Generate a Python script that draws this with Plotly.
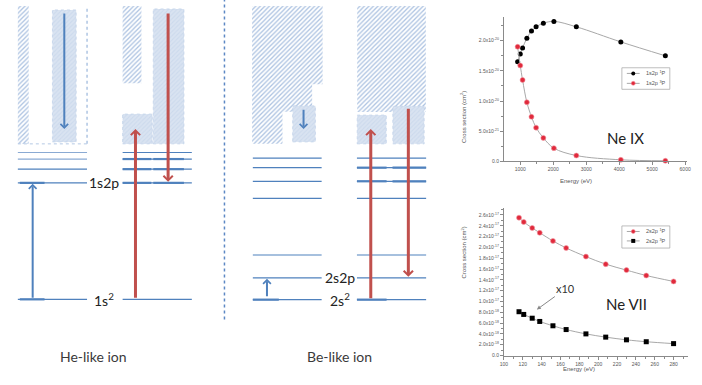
import plotly.graph_objects as go

W, H = 702, 385

# ---------------- data: Ne IX (He-like) ----------------
neix_energy = [920, 1000, 1070, 1200, 1340, 1480, 1700, 2020, 2700, 4050, 5400]
neix_1P = [1.65e-20, 1.78e-20, 1.88e-20, 2.04e-20, 2.16e-20, 2.23e-20, 2.29e-20, 2.32e-20, 2.23e-20, 1.98e-20, 1.75e-20]
neix_3P = [1.90e-20, 1.59e-20, 1.35e-20, 9.8e-21, 7.4e-21, 5.6e-21, 3.9e-21, 2.2e-21, 9.8e-22, 2.7e-22, 1.1e-22]
neix_names = ["1s2p <sup>1</sup>P", "1s2p <sup>3</sup>P"]
neix_xticks = [1000, 2000, 3000, 4000, 5000, 6000]
neix_yticks = [0, 5e-21, 1e-20, 1.5e-20, 2e-20]
neix_ytext = ["0.0", "5.0x10<sup>-21</sup>", "1.0x10<sup>-20</sup>", "1.5x10<sup>-20</sup>", "2.0x10<sup>-20</sup>"]

# ---------------- data: Ne VII (Be-like) ----------------
nevii_energy = [116, 121, 130, 138, 152, 166, 187, 208, 230, 251, 280]
nevii_1P = [2.55e-17, 2.47e-17, 2.36e-17, 2.27e-17, 2.12e-17, 1.99e-17, 1.83e-17, 1.69e-17, 1.58e-17, 1.48e-17, 1.37e-17]
nevii_3P_x10 = [8.1e-18, 7.6e-18, 6.9e-18, 6.3e-18, 5.5e-18, 4.8e-18, 4.0e-18, 3.4e-18, 2.9e-18, 2.55e-18, 2.2e-18]
nevii_names = ["2s2p <sup>1</sup>P", "2s2p <sup>3</sup>P"]
nevii_xticks = [100, 120, 140, 160, 180, 200, 220, 240, 260, 280]
nevii_yticks = [0, 2e-18, 4e-18, 6e-18, 8e-18, 1.0e-17, 1.2e-17, 1.4e-17, 1.6e-17, 1.8e-17, 2.0e-17, 2.2e-17, 2.4e-17, 2.6e-17]
nevii_ytext = ["0.0", "2.0x10<sup>-18</sup>", "4.0x10<sup>-18</sup>", "6.0x10<sup>-18</sup>", "8.0x10<sup>-18</sup>",
               "1.0x10<sup>-17</sup>", "1.2x10<sup>-17</sup>", "1.4x10<sup>-17</sup>", "1.6x10<sup>-17</sup>",
               "1.8x10<sup>-17</sup>", "2.0x10<sup>-17</sup>", "2.2x10<sup>-17</sup>", "2.4x10<sup>-17</sup>",
               "2.6x10<sup>-17</sup>"]

# ---------------- data: level diagrams (schematic energy units) ----------------
he_levels = [83.3, 200.7, 214.5, 224.7, 231.3]
be_levels = [83.0, 105.0, 128.0, 185.0, 202.3, 216.0, 225.7]
he_level_names = ["1s<sup>2</sup>", "1s2p"]
be_level_names = ["2s<sup>2</sup>", "2s2p"]
ion_names = ["He-like ion", "Be-like ion"]
continuum_top = 379
he_continuum = 240
be_continuum = 240

BLUE = "#4F81BD"
LBLUE = "#8aaad3"
RED = "#C0504D"
GRAY = "#a8a8a8"
MRED = "#e02a3c"

fig = go.Figure()

# ---------------- cross-section plots ----------------
red_marker = dict(color=MRED, size=5, line=dict(color="#f49aa5", width=0.6))
blk_marker = dict(color="black", size=5)
blk_sq = dict(color="black", size=5, symbol="square")

fig.add_trace(go.Scatter(x=neix_energy, y=neix_1P, mode="lines+markers", name=neix_names[0],
                         line=dict(color=GRAY, width=1, shape="spline"), marker=blk_marker,
                         cliponaxis=False, xaxis="x", yaxis="y", showlegend=False))
fig.add_trace(go.Scatter(x=neix_energy, y=neix_3P, mode="lines+markers", name=neix_names[1],
                         line=dict(color=GRAY, width=1, shape="spline"), marker=red_marker,
                         cliponaxis=False, xaxis="x", yaxis="y", showlegend=False))
fig.add_trace(go.Scatter(x=nevii_energy, y=nevii_1P, mode="lines+markers", name=nevii_names[0],
                         line=dict(color=GRAY, width=1, shape="spline"), marker=red_marker,
                         cliponaxis=False, xaxis="x2", yaxis="y2", showlegend=False))
fig.add_trace(go.Scatter(x=nevii_energy, y=nevii_3P_x10, mode="lines+markers", name=nevii_names[1],
                         line=dict(color=GRAY, width=1, shape="spline"), marker=blk_sq,
                         cliponaxis=False, xaxis="x2", yaxis="y2", showlegend=False))

# ---------------- level diagrams ----------------
def poly(xs, ys, fill, pattern=None, line=None):
    fig.add_trace(go.Scatter(x=xs + [xs[0]], y=ys + [ys[0]], fill="toself", mode="lines",
                             fillcolor=fill, fillpattern=pattern,
                             line=line or dict(width=0),
                             xaxis="x3", yaxis="y3", showlegend=False, hoverinfo="skip"))

HATCH = dict(shape="/", fgcolor="#5a86c3", bgcolor="white", size=3.2, solidity=0.4)

def rect(x0, x1, y0, y1, kind):
    if kind == "hatch":
        poly([x0, x1, x1, x0], [y0, y0, y1, y1], "white", HATCH)
    else:
        poly([x0, x1, x1, x0], [y0, y0, y1, y1], "#d6e1f0",
             dict(shape="/", fgcolor="#bfd0e8", bgcolor="#d9e3f1", size=3, solidity=0.35),
             dict(color="#c3d3ea", width=0.8, dash="dot"))

def hline(x0, x1, y, color=BLUE, width=1.3):
    fig.add_shape(type="line", xref="x3", yref="y3", x0=x0, x1=x1, y0=y, y1=y,
                  line=dict(color=color, width=width))

def vline(x, y0, y1, color, width, dash="dot"):
    fig.add_shape(type="line", xref="x3", yref="y3", x0=x, x1=x, y0=y0, y1=y1,
                  line=dict(color=color, width=width, dash=dash))

def arrow(x, y_from, y_to, color, width, size):
    fig.add_annotation(x=x, y=y_to, ax=x, ay=y_from, xref="x3", yref="y3", axref="x3", ayref="y3",
                       text="", showarrow=True, arrowhead=4, arrowsize=size, arrowwidth=width,
                       arrowcolor=color, standoff=0)

# He-like, left group (blue)
rect(14, 25, he_continuum, continuum_top, "hatch")
rect(49, 73, he_continuum + 2, continuum_top - 4, "light")
vline(84, he_continuum, continuum_top, "#9ab6dc", 1.2)
fig.add_shape(type="line", xref="x3", yref="y3", x0=14, x1=84, y0=he_continuum, y1=he_continuum,
              line=dict(color="#b5c9e4", width=1, dash="dot"))
for i, lv in enumerate(he_levels):
    hline(14, 84, lv, LBLUE if i >= 3 else BLUE, 1.2)
hline(16, 41, he_levels[0], BLUE, 2.2)
hline(16, 41, he_levels[1], BLUE, 2.2)
arrow(29, he_levels[0], he_levels[1] - 1, BLUE, 2, 0.75)
arrow(61, continuum_top - 6, he_continuum + 15, BLUE, 2, 0.75)

# He-like, right group (red)
rect(120, 139, 301, continuum_top, "hatch")
rect(120, 150, he_continuum, 270, "light")
rect(151, 182, he_continuum, continuum_top - 3, "light")
for lv in he_levels:
    hline(120, 190, lv, BLUE, 1.2)
for lv in he_levels[1:4]:
    hline(120, 149, lv, BLUE, 2.2)
    hline(151, 182, lv, BLUE, 2.2)
arrow(133, he_levels[0], he_continuum + 15, RED, 3, 0.6)
arrow(166, continuum_top - 6, he_levels[1] + 1, RED, 3, 0.6)

# Be-like, left group (blue)
poly([251, 322.3, 322.3, 311.7, 311.7, 281.7, 281.7, 251],
     [continuum_top, continuum_top, 300, 300, 272.3, 272.3, be_continuum, be_continuum], "white", HATCH)
rect(292, 315, be_continuum + 2, 278.3, "light")
for lv in be_levels:
    hline(251.7, 321.3, lv, BLUE, 1.2)
hline(251.7, 278, be_levels[0], BLUE, 2.2)
arrow(266, be_levels[0] + 2, be_levels[1] - 1, BLUE, 2, 0.75)
arrow(303, 276, be_continuum + 15, BLUE, 2, 0.75)

# Be-like, right group (red)
rect(357.3, 426.7, 272, continuum_top, "hatch")
rect(357.3, 386.7, be_continuum, 269, "light")
rect(393.3, 425, be_continuum, 278, "light")
for lv in be_levels:
    hline(357, 427, lv, BLUE, 1.2)
for lv in be_levels[4:6]:
    hline(357, 387, lv, BLUE, 2.2)
    hline(393, 427, lv, BLUE, 2.2)
hline(357, 387, be_levels[0], BLUE, 2.2)
arrow(371, be_levels[0], be_continuum + 15, RED, 3, 0.6)
arrow(409, 277, be_levels[1] + 1, RED, 3, 0.6)

# divider
vline(223, 63, 385, "#5d88c4", 1.5)

# level labels
LFONT = dict(family="Lato, Open Sans, sans-serif", size=14, color="#222222")
for xx, yy, tt in [(101, he_levels[1], he_level_names[1]), (101, he_levels[0], he_level_names[0]),
                   (340, be_levels[1], be_level_names[1]), (340, be_levels[0], be_level_names[0])]:
    fig.add_annotation(x=xx, y=yy, text=tt, xref="x3", yref="y3", showarrow=False,
                       font=LFONT, bgcolor="white")
for xx, tt in [(91, ion_names[0]), (339, ion_names[1])]:
    fig.add_annotation(x=xx, y=26, text=tt, xref="x3", yref="y3", showarrow=False,
                       font=dict(family="Lato, Open Sans, sans-serif", size=14, color="#3a3a3a"))

# ---------------- hand-made compact legends (pixel frame of x3/y3) ----------------
LEGF = dict(family="Liberation Sans, Arial, sans-serif", size=5.5, color="#555555")

def legend_box(x0, x1, top, bottom, rows):
    fig.add_shape(type="rect", xref="x3", yref="y3", x0=x0, x1=x1, y0=H - bottom, y1=H - top,
                  line=dict(color="#a0a0a0", width=0.7), fillcolor="white", layer="below")
    for (yrow, name, mk) in rows:
        yy = H - yrow
        fig.add_trace(go.Scatter(x=[x0 + 5, x0 + 18], y=[yy, yy], mode="lines",
                                 line=dict(color=GRAY, width=1), xaxis="x3", yaxis="y3",
                                 showlegend=False, hoverinfo="skip"))
        fig.add_trace(go.Scatter(x=[x0 + 11.5], y=[yy], mode="markers", marker=dict(mk, size=4),
                                 xaxis="x3", yaxis="y3", showlegend=False, hoverinfo="skip"))
        fig.add_annotation(x=x0 + 22, y=yy, text=name, xref="x3", yref="y3", showarrow=False,
                           xanchor="left", font=LEGF)

legend_box(625, 673.5, 68.3, 90, [(74, neix_names[0], blk_marker), (84, neix_names[1], red_marker)])
legend_box(625, 673.5, 227.7, 250, [(233.3, nevii_names[0], red_marker), (242.8, nevii_names[1], blk_sq)])

# ---------------- plot annotations ----------------
def px(xp, yp):
    return xp / W, 1 - yp / H

AF = dict(family="Liberation Sans, Arial, sans-serif", size=6, color="#555555")
for (xp, yp) in [(465, 90), (465, 283)]:
    x, y = px(xp, yp)
    fig.add_annotation(x=x, y=y, xref="paper", yref="paper", text="Cross section (cm<sup>2</sup>)",
                       textangle=-90, showarrow=False, font=AF)
for (xp, yp) in [(597, 182), (600, 377)]:
    x, y = px(xp, yp)
    fig.add_annotation(x=x, y=y, xref="paper", yref="paper", text="Energy (eV)",
                       showarrow=False, font=AF)
x, y = px(649, 128)
fig.add_annotation(x=x, y=y, xref="paper", yref="paper", text="Ne IX", showarrow=False,
                   font=dict(family="Lato, Open Sans, sans-serif", size=15, color="#222222"))
x, y = px(652, 317)
fig.add_annotation(x=x, y=y, xref="paper", yref="paper", text="Ne VII", showarrow=False,
                   font=dict(family="Lato, Open Sans, sans-serif", size=15, color="#222222"))
x, y = px(539, 312)
fig.add_annotation(x=x, y=y, xref="paper", yref="paper", text="x10", showarrow=True,
                   ax=29, ay=-21, arrowhead=2, arrowsize=0.8, arrowwidth=1, arrowcolor="#888888",
                   font=dict(family="Lato, Open Sans, sans-serif", size=11, color="#333333"))

TF = dict(family="Liberation Sans, Arial, sans-serif", size=5, color="#555555")
axis_common = dict(showline=True, linecolor="#8a8a8a", linewidth=1, ticks="outside", ticklen=3,
                   tickcolor="#8a8a8a", showgrid=False, zeroline=False, tickfont=TF)

fig.update_layout(
    width=W, height=H, margin=dict(l=0, r=0, t=0, b=0),
    paper_bgcolor="white", plot_bgcolor="rgba(0,0,0,0)", showlegend=False,
    xaxis=dict(domain=[505.7 / W, 691 / W], range=[505, 6060], anchor="y", tickvals=neix_xticks,
               minor=dict(ticks="outside", ticklen=2, dtick=500, tick0=0, tickcolor="#8a8a8a"),
               **axis_common),
    yaxis=dict(domain=[1 - 162.7 / H, 1 - 16.7 / H], range=[0, 2.4e-20], anchor="x",
               tickvals=neix_yticks, ticktext=neix_ytext,
               minor=dict(ticks="outside", ticklen=2, dtick=2.5e-21, tick0=0, tickcolor="#8a8a8a"),
               **axis_common),
    xaxis2=dict(domain=[505.7 / W, 691.6 / W], range=[100, 295], anchor="y2", tickvals=nevii_xticks,
                minor=dict(ticks="outside", ticklen=2, dtick=10, tick0=0, tickcolor="#8a8a8a"),
                **axis_common),
    yaxis2=dict(domain=[1 - 358.3 / H, 1 - 209.3 / H], range=[0, 2.735e-17], anchor="x2",
                tickvals=nevii_yticks, ticktext=nevii_ytext,
                minor=dict(ticks="outside", ticklen=2, dtick=1e-18, tick0=0, tickcolor="#8a8a8a"),
                **axis_common),
    xaxis3=dict(domain=[0, 1], range=[0, W], visible=False, fixedrange=True),
    yaxis3=dict(domain=[0, 1], range=[0, H], visible=False, fixedrange=True, anchor="x3"),
    hovermode=False,
)

fig.write_html("out.html", config={"displayModeBar": False, "staticPlot": True},
               post_script="document.body.style.margin='0';")
